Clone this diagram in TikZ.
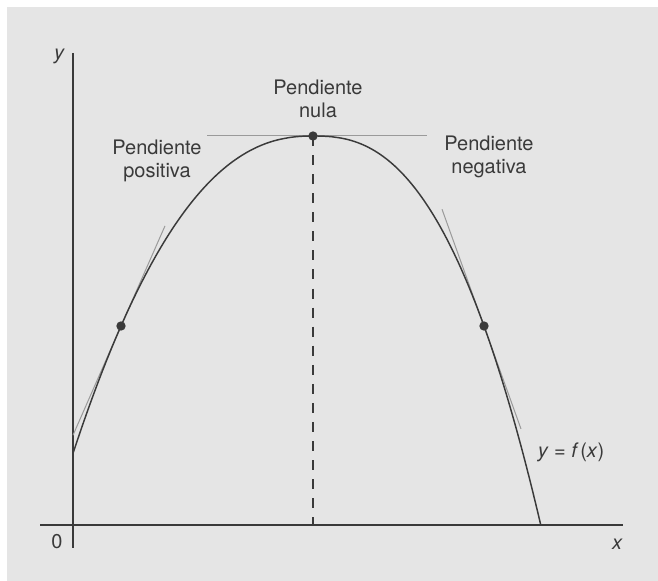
\documentclass[tikz,border=0pt]{standalone}
\usepackage{fontspec}
\setmainfont{TeX Gyre Heros}
\usetikzlibrary{calc, positioning}
\definecolor{panel}{HTML}{E5E5E5}
\definecolor{ink}{HTML}{3A3A3A}
\definecolor{tanline}{HTML}{9A9A9A}
\tikzset{
  axis/.style={line width=1.2pt, draw=ink},
  curve/.style={line width=1.1pt, draw=ink},
  tangent/.style={line width=0.75pt, draw=tanline},
  guide/.style={line width=1.1pt, draw=ink, dash pattern=on 7.5pt off 6.8pt},
  dot/.style={circle, fill=ink, inner sep=0pt, minimum size=7pt},
  caption/.style={font=\fontsize{15}{17}\selectfont, text=ink, align=center},
  axislabel/.style={font=\fontsize{15}{17}\selectfont\itshape, text=ink},
}

\begin{document}
\begin{tikzpicture}[x=0.75pt, y=-0.75pt]
  \useasboundingbox (0,0) rectangle (658,581);
  \fill[panel] (7,7) rectangle (658,581);

  \coordinate (ytop) at (73,53);
  \coordinate (ybot) at (73,548);
  \coordinate (xl) at (40,525);
  \coordinate (xr) at (623,525);
  \coordinate (foot) at (313,525);
  \coordinate (pk) at (313,136);
  \coordinate (pl) at (121,326);
  \coordinate (pr) at (484,326);

  \draw[axis] (xl) -- (xr);
  \draw[axis] (ytop) -- (ybot);

  \draw[tangent] ($(pk)+(-106,0)$) -- ($(pk)+(114,0)$);
  \draw[tangent] ($(pl)+(-48,109.2)$) -- ($(pl)+(44,-100.1)$);
  \draw[tangent] ($(pr)+(-42,-116.8)$) -- ($(pr)+(37,102.9)$);

  \draw[guide] (pk) -- (foot);

  \draw[curve] plot[domain=1.25:0.01, samples=80] ({313-192*\x}, {136+190*(\x)^2.3})
    -- (pk) -- plot[domain=0.01:1.3333, samples=80] ({313+171*\x}, {136+190*(\x)^2.5});

  \node[dot] (dotk) at (pk) {};
  \node[dot] (dotl) at (pl) {};
  \node[dot] (dotr) at (pr) {};

  \node[axislabel, anchor=base] (ylab) at (59,59.5) {y};
  \node[axislabel, anchor=base] (xlab) at (617,549) {x};
  \node[caption, anchor=base] (zero) at (57,548) {0};
  \node[caption] (nula) at (318,99) {Pendiente\\nula};
  \node[caption] (pos) at (157,161) {Pendiente\\positiva};
  \node[caption] (neg) at (489,157) {Pendiente\\negativa};
  \node[caption, anchor=base] (fx) at (571,458) {\textit{y} = \textit{f\,}(\textit{x})};
\end{tikzpicture}
\end{document}
